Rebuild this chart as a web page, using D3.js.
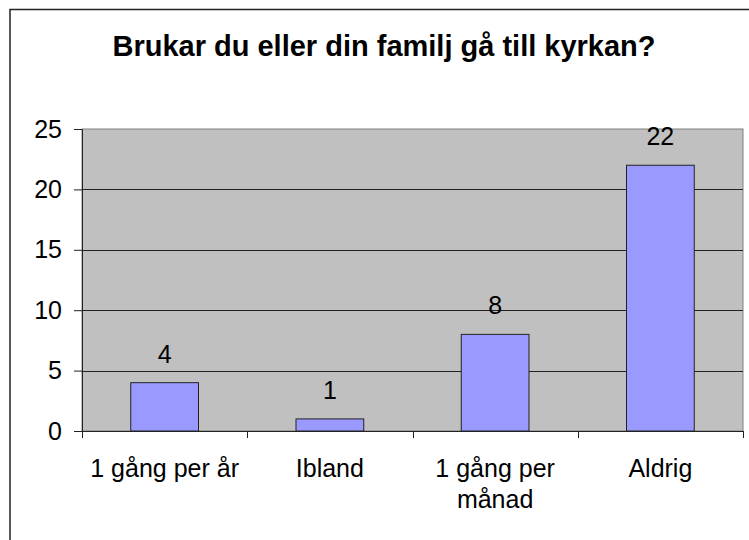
<!DOCTYPE html>
<html>

<head>
  <meta charset="UTF-8">
  <style>
    body { margin: 0; background: #fff; }
    svg { display: block; font-family: "Liberation Sans", Arial, sans-serif; }
  </style>
</head>

<body>
  <svg></svg>
  <script src="https://d3js.org/d3.v7.min.js"></script>

  <script>

    let width = 749, height = 540;

    // data
    let categories = ["1 gång per år", "Ibland", "1 gång per månad", "Aldrig"];
    let labelLines = [["1 gång per år"], ["Ibland"], ["1 gång per", "månad"], ["Aldrig"]];
    let counts = [4, 1, 8, 22];
    let yTicks = [0, 5, 10, 15, 20, 25];
    let title = "Brukar du eller din familj gå till kyrkan?";

    let plot = { left: 82, right: 743, top: 129, bottom: 431 };

    let svg = d3.select("svg")
      .attr("width", width)
      .attr("height", height)
      .attr("viewBox", "0 0 " + width + " " + height);

    // outer chart frame (runs off the right and bottom edge)
    svg.append("rect")
      .attr("x", 10).attr("y", 9.5)
      .attr("width", width + 20).attr("height", height + 20)
      .attr("fill", "white")
      .attr("stroke", "#222")
      .attr("stroke-width", 1.5);

    svg.append("text")
      .attr("x", 384).attr("y", 56)
      .attr("text-anchor", "middle")
      .attr("font-size", 29)
      .attr("font-weight", "bold")
      .text(title);

    let x = d3.scaleBand()
      .domain(categories)
      .range([plot.left, plot.right])
      .padding(0);

    let y = d3.scaleLinear()
      .domain([0, 25])
      .range([plot.bottom, plot.top]);

    // plot background
    svg.append("rect")
      .attr("x", plot.left).attr("y", plot.top)
      .attr("width", plot.right - plot.left)
      .attr("height", plot.bottom - plot.top)
      .attr("fill", "#c0c0c0")
      .attr("stroke", "#808080")
      .attr("stroke-width", 1);

    // gridlines
    svg.append("g")
      .selectAll("line")
      .data(yTicks.filter(d => d > 0 && d < 25))
      .enter()
      .append("line")
      .attr("x1", plot.left).attr("x2", plot.right)
      .attr("y1", d => Math.round(y(d)) + 0.5)
      .attr("y2", d => Math.round(y(d)) + 0.5)
      .attr("stroke", "#222")
      .attr("stroke-width", 1);

    // bars
    let barW = x.bandwidth() * 0.41;
    svg.append("g")
      .selectAll("rect")
      .data(counts)
      .enter()
      .append("rect")
      .attr("x", (d, i) => x(categories[i]) + (x.bandwidth() - barW) / 2)
      .attr("y", d => y(d))
      .attr("width", barW)
      .attr("height", d => y(0) - y(d))
      .attr("fill", "#9999ff")
      .attr("stroke", "#222")
      .attr("stroke-width", 1);

    // value labels
    svg.append("g")
      .selectAll("text")
      .data(counts)
      .enter()
      .append("text")
      .attr("x", (d, i) => x(categories[i]) + x.bandwidth() / 2)
      .attr("y", d => y(d) - 20)
      .attr("text-anchor", "middle")
      .attr("font-size", 25)
      .text(d => d);

    // y axis
    let yAxis = svg.append("g")
      .attr("transform", "translate(" + plot.left + ",0)")
      .call(d3.axisLeft(y).tickValues(yTicks).tickSize(8).tickPadding(12));
    yAxis.select(".domain").attr("stroke", "#222");
    yAxis.selectAll(".tick line").attr("stroke", "#222");
    yAxis.selectAll(".tick text")
      .attr("font-size", 25)
      .attr("font-family", "Liberation Sans, Arial, sans-serif")
      .attr("fill", "#000");

    // x axis: ticks at category boundaries
    let bounds = categories.map(c => x(c)).concat([plot.right]);
    svg.append("line")
      .attr("x1", plot.left).attr("x2", plot.right)
      .attr("y1", plot.bottom + 0.5).attr("y2", plot.bottom + 0.5)
      .attr("stroke", "#222");
    svg.append("g")
      .selectAll("line")
      .data(bounds)
      .enter()
      .append("line")
      .attr("x1", d => Math.round(d) + 0.5).attr("x2", d => Math.round(d) + 0.5)
      .attr("y1", plot.bottom).attr("y2", plot.bottom + 7)
      .attr("stroke", "#222");

    // category labels
    let catText = svg.append("g")
      .selectAll("text")
      .data(categories)
      .enter()
      .append("text")
      .attr("x", d => x(d) + x.bandwidth() / 2)
      .attr("y", 477)
      .attr("text-anchor", "middle")
      .attr("font-size", 25);
    catText.selectAll("tspan")
      .data((d, i) => labelLines[i])
      .enter()
      .append("tspan")
      .attr("x", function () { return this.parentNode.getAttribute("x"); })
      .attr("dy", (d, i) => i === 0 ? 0 : 31)
      .text(d => d);

  </script>

</body>

</html>
